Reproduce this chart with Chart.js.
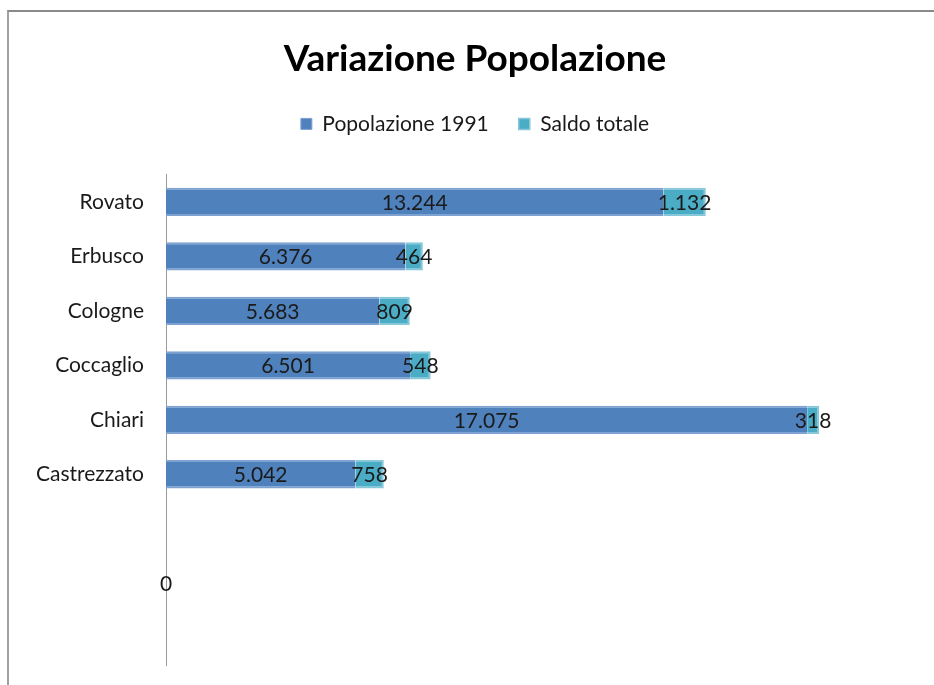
<!DOCTYPE html>
<html>
<head>
<meta charset="utf-8">
<script src="https://cdn.jsdelivr.net/npm/chart.js@4/dist/chart.umd.min.js"></script>
<style>
  html, body { margin: 0; padding: 0; background: #fff; }
  #wrap { position: relative; width: 934px; height: 685px; }
  #frame { position: absolute; left: 7px; top: 10px; right: 0; bottom: 0; border-top: 2px solid #8a8a8a; border-left: 2px solid #a0a0a0; pointer-events: none; }
  canvas { position: absolute; left: 0; top: 0; }
</style>
</head>
<body>
<div id="wrap">
  <canvas id="c" width="934" height="685"></canvas>
  <div id="frame"></div>
</div>
<script>
const categories = ['Rovato', 'Erbusco', 'Cologne', 'Coccaglio', 'Chiari', 'Castrezzato', '', '', ''];
const popolazione1991 = [13244, 6376, 5683, 6501, 17075, 5042, null, 0, null];
const saldoTotale = [1132, 464, 809, 548, 318, 758, null, null, null];
const seriesNames = ['Popolazione 1991', 'Saldo totale'];
const chartTitle = 'Variazione Popolazione';

function fmt(v) {
  return String(v).replace(/\B(?=(\d{3})+(?!\d))/g, '.');
}

const dataLabels = {
  id: 'dataLabels',
  afterDatasetsDraw(chart) {
    const ctx = chart.ctx;
    ctx.save();
    ctx.font = '21px Lato';
    ctx.fillStyle = '#1a1a1a';
    ctx.textAlign = 'center';
    ctx.textBaseline = 'middle';
    chart.data.datasets.forEach((ds, i) => {
      const meta = chart.getDatasetMeta(i);
      meta.data.forEach((el, j) => {
        const v = ds.data[j];
        if (v === null || v === undefined) return;
        const p = el.getProps(['x', 'y', 'base'], true);
        ctx.fillText(fmt(v), (p.x + p.base) / 2, p.y + 1);
      });
    });
    ctx.restore();
  }
};

new Chart(document.getElementById('c'), {
  type: 'bar',
  data: {
    labels: categories,
    datasets: [
      { label: seriesNames[0], data: popolazione1991, backgroundColor: '#4f81bd', borderColor: '#7ea3d3', borderWidth: {top: 2, bottom: 2, left: 0, right: 0}, borderSkipped: false },
      { label: seriesNames[1], data: saldoTotale, backgroundColor: '#4bacc6', borderColor: '#86c8da', borderWidth: {top: 2, bottom: 2, left: 0, right: 2}, borderSkipped: false }
    ]
  },
  options: {
    indexAxis: 'y',
    responsive: false,
    animation: false,
    datasets: { bar: { categoryPercentage: 1, barPercentage: 0.52 } },
    layout: { padding: { left: 18, right: 2, top: 0, bottom: 20 } },
    scales: {
      x: { stacked: true, display: false, min: 0, max: 20400 },
      y: {
        stacked: true,
        grid: { display: false, drawTicks: true, tickLength: 20 },
        border: { display: true, color: '#9a9a9a', width: 1 },
        ticks: { color: '#1a1a1a', font: { family: 'Lato', size: 21 }, padding: 2 },
        afterFit(scale) { scale.width = 148; }
      }
    },
    plugins: {
      title: {
        display: true, text: chartTitle, color: '#000',
        font: { family: 'Lato', size: 37, weight: 'bold' },
        padding: { top: 37, bottom: 2 }
      },
      subtitle: {
        display: true, text: '', weight: 500,
        font: { size: 1 }, padding: { top: 29, bottom: 0 }
      },
      legend: {
        display: true, position: 'top',
        labels: { color: '#1a1a1a', font: { family: 'Lato', size: 21 }, boxWidth: 11, boxHeight: 11, padding: 30 }
      },
      tooltip: { enabled: false }
    }
  },
  plugins: [dataLabels]
});
</script>
</body>
</html>
